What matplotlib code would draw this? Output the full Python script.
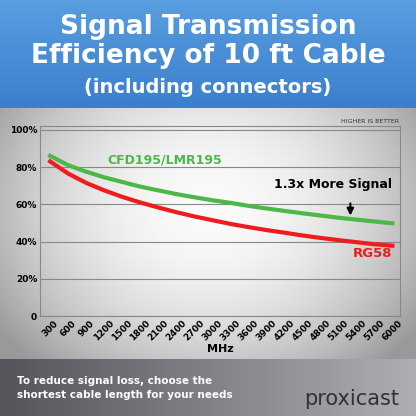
import matplotlib.pyplot as plt
import numpy as np

# data
mhz = [300, 600, 900, 1200, 1500, 1800, 2100, 2400, 2700, 3000,
       3300, 3600, 3900, 4200, 4500, 4800, 5100, 5400, 5700, 6000]
lmr195 = [86, 81, 77.5, 74.5, 72, 69.5, 67.5, 65.5, 63.8, 62.2,
          60.8, 59.2, 57.8, 56.5, 55.2, 54, 52.8, 51.8, 50.8, 49.8]
rg58 = [83, 76.5, 71.5, 67.5, 64, 61, 58.3, 55.8, 53.5, 51.5,
        49.5, 47.8, 46.2, 44.8, 43.3, 42, 40.8, 39.7, 38.6, 37.8]
yticks = [0, 20, 40, 60, 80, 100]
ylabels = ['0', '20%', '40%', '60%', '80%', '100%']

fig = plt.figure(figsize=(4.16, 4.16), dpi=100)

# background: gray radial gradient
bg = fig.add_axes([0, 0, 1, 1])
yy, xx = np.mgrid[-1:1:200j, -1:1:200j]
r = np.sqrt(xx**2 + (yy * 1.2)**2)
bg.imshow(np.clip(0.98 - 0.25 * r**2, 0.6, 1), cmap='gray', vmin=0, vmax=1,
          extent=[0, 1, 0, 1], aspect='auto')
# blue header
grad = np.linspace(0, 1, 100).reshape(-1, 1)
hdr = np.dstack([0.23 + 0.12 * grad, 0.50 + 0.12 * grad, 0.80 + 0.08 * grad])
bg.imshow(hdr, extent=[0, 1, 0.74, 1], aspect='auto', origin='lower')
# bottom strip
bot = np.dstack([0.33 + 0.35 * grad.T, 0.33 + 0.35 * grad.T, 0.35 + 0.35 * grad.T])
bg.imshow(np.repeat(bot, 20, axis=0), extent=[0, 1, 0, 0.135], aspect='auto')
bg.set_xlim(0, 1)
bg.set_ylim(0, 1)
bg.axis('off')

fig.text(0.5, 0.935, 'Signal Transmission', ha='center', va='center',
         color='white', fontsize=19, fontweight='bold')
fig.text(0.5, 0.865, 'Efficiency of 10 ft Cable', ha='center', va='center',
         color='white', fontsize=19, fontweight='bold')
fig.text(0.5, 0.79, '(including connectors)', ha='center', va='center',
         color='white', fontsize=14, fontweight='bold')
fig.text(0.04, 0.085, 'To reduce signal loss, choose the', color='white',
         fontsize=7.5, fontweight='bold', va='center')
fig.text(0.04, 0.05, 'shortest cable length for your needs', color='white',
         fontsize=7.5, fontweight='bold', va='center')
fig.text(0.96, 0.04, 'proxicast', color='#333333', fontsize=15,
         ha='right', va='center')
fig.text(0.96, 0.705, 'HIGHER IS BETTER', color='#333333', fontsize=4.5, ha='right')

ax = fig.add_axes([0.096, 0.24, 0.866, 0.457])
ax.patch.set_alpha(0)
ax.plot(mhz, lmr195, color='#4cb848', lw=3)
ax.plot(mhz, rg58, color='#ee1c1c', lw=3)
ax.set_xlim(130, 6130)
ax.set_ylim(0, 102)
ax.set_xticks(mhz)
ax.set_xticklabels(mhz, rotation=45, fontsize=6.5, fontweight='bold')
ax.set_yticks(yticks)
ax.set_yticklabels(ylabels, fontsize=6.5, fontweight='bold')
ax.tick_params(length=0, pad=2)
ax.grid(axis='y', color='#888888', lw=0.8)
for s in ax.spines.values():
    s.set_color('#888888')
ax.set_xlabel('MHz', fontsize=8, fontweight='bold', labelpad=1)
ax.text(1250, 82, 'CFD195/LMR195', color='#4cb848', fontsize=9, fontweight='bold')
ax.text(6000, 32, 'RG58', color='#ee1c1c', fontsize=9.5, fontweight='bold', ha='right')
ax.text(6000, 69, '1.3x More Signal', color='black', fontsize=9, fontweight='bold', ha='right')
ax.annotate('', xy=(5300, 52.5), xytext=(5300, 62),
            arrowprops=dict(arrowstyle='-|>', color='black', lw=1.5))

fig.savefig('out.png', dpi=100)
